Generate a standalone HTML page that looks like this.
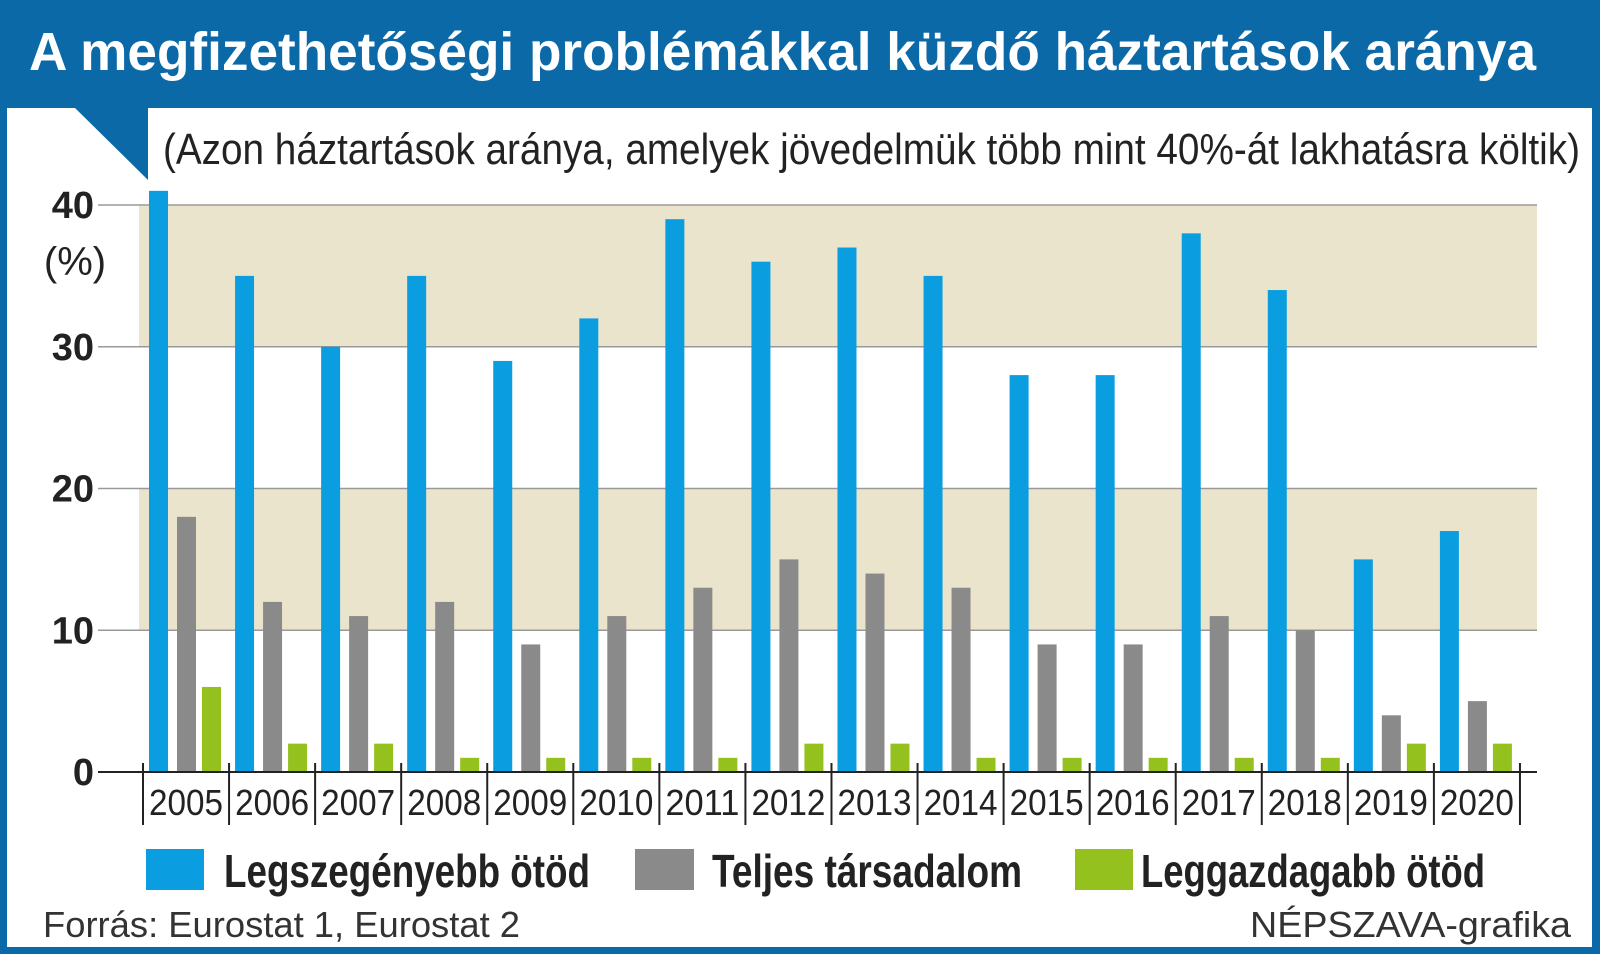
<!DOCTYPE html>
<html><head><meta charset="utf-8"><style>
html,body{margin:0;padding:0;background:#fff}
svg{display:block}
text{font-family:"Liberation Sans",sans-serif}
</style></head><body>
<svg width="1600" height="954" viewBox="0 0 1600 954" xmlns="http://www.w3.org/2000/svg">
<rect x="0" y="0" width="1600" height="954" fill="#0b69a7"/>
<rect x="7" y="108" width="1585" height="839" fill="#fff"/>
<polygon points="75,108 148,108 148,180" fill="#0b69a7"/>
<text x="29" y="70" font-size="54" font-weight="bold" fill="#fff" textLength="1507" lengthAdjust="spacingAndGlyphs">A megfizethetőségi problémákkal küzdő háztartások aránya</text>
<text x="163" y="164" font-size="44" fill="#222" textLength="1417" lengthAdjust="spacingAndGlyphs">(Azon háztartások aránya, amelyek jövedelmük több mint 40%-át lakhatásra költik)</text>
<g id="plot"></g>
<g>
<rect x="146" y="849" width="58" height="41" fill="#0a9ee0"/>
<text x="224" y="887" font-size="46" font-weight="bold" fill="#222" textLength="366" lengthAdjust="spacingAndGlyphs">Legszegényebb ötöd</text>
<rect x="635" y="849" width="59" height="41" fill="#8a8a8a"/>
<text x="712" y="887" font-size="46" font-weight="bold" fill="#222" textLength="310" lengthAdjust="spacingAndGlyphs">Teljes társadalom</text>
<rect x="1075" y="849" width="58" height="41" fill="#95c11f"/>
<text x="1141" y="887" font-size="46" font-weight="bold" fill="#222" textLength="344" lengthAdjust="spacingAndGlyphs">Leggazdagabb ötöd</text>
</g>
<text x="43" y="937" font-size="36" fill="#333" textLength="477" lengthAdjust="spacingAndGlyphs">Forrás: Eurostat 1, Eurostat 2</text>
<text x="1250" y="937" font-size="36" fill="#333" textLength="321" lengthAdjust="spacingAndGlyphs">NÉPSZAVA-grafika</text>
</svg>
<script>
const years=["2005","2006","2007","2008","2009","2010","2011","2012","2013","2014","2015","2016","2017","2018","2019","2020"];
const poorest=[41,35,30,35,29,32,39,36,37,35,28,28,38,34,15,17];
const total=[18,12,11,12,9,11,13,15,14,13,9,9,11,10,4,5];
const richest=[6,2,2,1,1,1,1,2,2,1,1,1,1,1,2,2];
const yTicks=[0,10,20,30,40];
const NS="http://www.w3.org/2000/svg";
const g=document.getElementById('plot');
const y=v=>772-v*(772-205)/40;
const x0=143,step=86.06;
function mk(t,a){const e=document.createElementNS(NS,t);for(const k in a)e.setAttribute(k,a[k]);g.appendChild(e);return e;}
[[10,20],[30,40]].forEach(b=>{const r=mk('rect',{x:139,y:y(b[1]),width:1398,height:y(b[0])-y(b[1]),fill:'#ebe4cc'});

});
yTicks.forEach(t=>{
 if(t>0){const l=mk('line',{x1:98,x2:1537,y1:y(t),y2:y(t),stroke:'#999','stroke-width':1.5});
 
 }
 const tx=mk('text',{x:94,y:y(t)+13,'font-size':38,'font-weight':'bold','text-anchor':'end',fill:'#222'});
 tx.textContent=String(t);
 
 
});
const pc=mk('text',{x:75,y:275,'font-size':40,'text-anchor':'middle',fill:'#222'});pc.textContent='(%)';


const series=[[poorest,'#0a9ee0',6,'bar-poorest'],[total,'#8a8a8a',34,'bar-total'],[richest,'#95c11f',59,'bar-richest']];
years.forEach((yr,i)=>{
 const gx=x0+i*step;
 series.forEach(s=>{const r=mk('rect',{x:gx+s[2],y:y(s[0][i]),width:19,height:772-y(s[0][i]),fill:s[1]});
 
 });
 const t=mk('text',{x:gx+step/2,y:815,'font-size':36,'text-anchor':'middle',fill:'#222',textLength:74,lengthAdjust:'spacingAndGlyphs'});
 t.textContent=yr;
 
 
});
for(let i=0;i<=years.length;i++){const l=mk('line',{x1:x0+i*step,x2:x0+i*step,y1:763,y2:825,stroke:'#222','stroke-width':2});

}
const ax=mk('line',{x1:98,x2:1537,y1:772,y2:772,stroke:'#222','stroke-width':2});


</script>
</body></html>
